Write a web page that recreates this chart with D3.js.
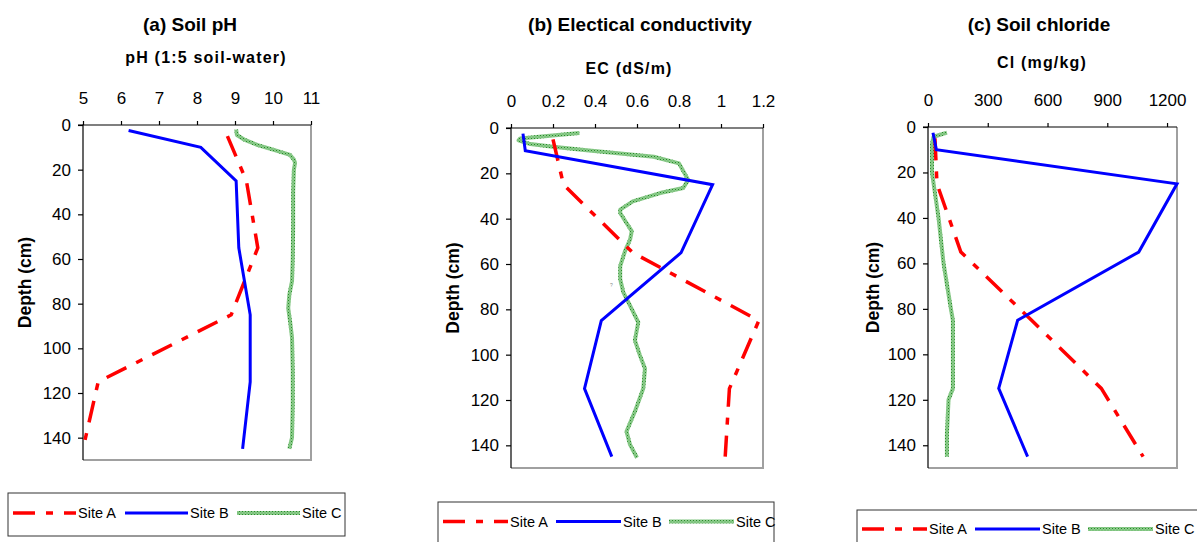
<!DOCTYPE html>
<html>
<head>
<meta charset="utf-8">
<script src="https://cdn.jsdelivr.net/npm/d3@7"></script>
<style>
  body { margin: 0; background: #fff; }
  svg { font-family: "Liberation Sans", Arial, sans-serif; display: block; }
</style>
</head>
<body>
<svg id="chart" width="1197" height="542"></svg>
<script>
// sampling depths (cm)
const depthB = [2.5, 10, 25, 55, 85, 115, 145];
const depthA = [5, 25, 55, 85, 115, 145];

// (a) soil pH
const phA = [8.8, 9.3, 9.6, 8.9, 5.4, 5.0];
const phB = [6.2, 8.1, 9.03, 9.1, 9.4, 9.4, 9.2];
const phDepthC = [2, 4.5, 6.7, 9, 11, 13.4, 15.5, 17, 20, 30, 45, 60, 70, 76, 82, 88, 95, 110, 125, 140, 145];
const phC = [9.03, 9.05, 9.26, 9.6, 10.0, 10.45, 10.55, 10.58, 10.55, 10.53, 10.53, 10.52, 10.5, 10.43, 10.4, 10.45, 10.5, 10.52, 10.52, 10.5, 10.43];

// (b) electrical conductivity
const ecA = [0.2, 0.25, 0.58, 1.18, 1.04, 1.02];
const ecB = [0.057, 0.068, 0.96, 0.81, 0.43, 0.35, 0.48];
const ecDepthC = [2.2, 4.6, 5.4, 7.1, 8.3, 9.8, 12.7, 15.6, 22.9, 26.5, 28.7, 32.4, 36, 37.5, 41.9, 45.5, 49.2, 54.3, 60.9, 66.7, 72.5, 78.4, 85.7, 93.7, 100.3, 106.1, 114.9, 125.1, 133.9, 139.7, 145.5];
const ecC = [0.326, 0.044, 0.036, 0.092, 0.2, 0.36, 0.68, 0.80, 0.844, 0.82, 0.71, 0.58, 0.52, 0.52, 0.55, 0.575, 0.567, 0.543, 0.52, 0.52, 0.535, 0.567, 0.606, 0.59, 0.614, 0.638, 0.63, 0.59, 0.55, 0.567, 0.60];

// (c) chloride
const clA = [35, 45, 165, 520, 870, 1080];
const clB = [25, 42, 1250, 1058, 450, 355, 500];
const clDepthC = [2.5, 4.3, 7.2, 20, 40, 60, 80, 85, 100, 115, 120, 135, 145];
const clC = [95, 28, 20, 20, 53, 78, 115, 125, 125, 125, 103, 95, 95];

const depthTicks = [0, 20, 40, 60, 80, 100, 120, 140];
const siteNames = ["Site A", "Site B", "Site C"];

const svg = d3.select("#chart");

// textured green stroke like the excel pattern line
const pat = svg.append("defs").append("pattern")
  .attr("id", "grn")
  .attr("patternUnits", "userSpaceOnUse")
  .attr("width", 3).attr("height", 3);
pat.append("rect").attr("width", 3).attr("height", 3).attr("fill", "#8ccc8c");
pat.append("rect").attr("width", 1).attr("height", 1).attr("fill", "#2a8a2a");
pat.append("rect").attr("x", 1.5).attr("y", 1.5).attr("width", 1).attr("height", 1).attr("fill", "#55aa55");

const styleA = s => s.attr("stroke", "#ff0000").attr("stroke-width", 3.5).attr("stroke-dasharray", "22,11,7,11");
const styleB = s => s.attr("stroke", "#0000ff").attr("stroke-width", 3);
const styleC = s => s.attr("stroke", "url(#grn)").attr("stroke-width", 4);

const panels = [
  { title: "(a) Soil pH", tx: 190, xlabel: "pH (1:5 soil-water)", lx: 206, ly: 63,
    left: 83, right: 311, top: 125, bottom: 460, domain: [5, 11], ticks: [5, 6, 7, 8, 9, 10, 11],
    A: phA, B: phB, dC: phDepthC, C: phC, depthLabelX: 31,
    legend: { x: 8, y: 493, w: 337, h: 43 } },
  { title: "(b) Electical conductivity", tx: 640, xlabel: "EC (dS/m)", lx: 629, ly: 74,
    left: 511, right: 763, top: 128, bottom: 468, domain: [0, 1.2], ticks: [0, 0.2, 0.4, 0.6, 0.8, 1, 1.2],
    A: ecA, B: ecB, dC: ecDepthC, C: ecC, depthLabelX: 459,
    legend: { x: 438, y: 502, w: 336, h: 60 } },
  { title: "(c)  Soil chloride", tx: 1039, xlabel: "Cl (mg/kg)", lx: 1042, ly: 68,
    left: 928, right: 1177, top: 127, bottom: 468, domain: [0, 1250], ticks: [0, 300, 600, 900, 1200],
    A: clA, B: clB, dC: clDepthC, C: clC, depthLabelX: 879,
    legend: { x: 857, y: 510, w: 360, h: 60 } }
];

panels.forEach(p => {
  const x = d3.scaleLinear().domain(p.domain).range([p.left, p.right]);
  const y = d3.scaleLinear().domain([0, 150]).range([p.top, p.bottom]);
  const g = svg.append("g");

  g.append("text").attr("x", p.tx).attr("y", 31).attr("text-anchor", "middle")
    .attr("font-size", 19).attr("font-weight", "bold").text(p.title);
  g.append("text").attr("x", p.lx).attr("y", p.ly).attr("text-anchor", "middle")
    .attr("font-size", 16).attr("font-weight", "bold").attr("letter-spacing", "1.2px").text(p.xlabel);

  // plot frame (right + bottom)
  g.append("path")
    .attr("d", `M${p.right},${p.top}V${p.bottom}H${p.left}`)
    .attr("fill", "none").attr("stroke", "#a0a0a0").attr("stroke-width", 2);

  const xAxis = g.append("g").attr("transform", `translate(0,${p.top})`)
    .call(d3.axisTop(x).tickValues(p.ticks).tickFormat(d => String(d))
      .tickSize(4).tickSizeOuter(0).tickPadding(17));
  const yAxis = g.append("g").attr("transform", `translate(${p.left},0)`)
    .call(d3.axisLeft(y).tickValues(depthTicks).tickFormat(d => String(d))
      .tickSize(5).tickSizeOuter(0).tickPadding(7));
  [xAxis, yAxis].forEach(a => {
    a.selectAll("text").attr("font-size", 17).attr("fill", "#000").style("font-family", "inherit");
    a.selectAll("line,path").attr("stroke", "#000").attr("stroke-width", 1.2);
  });
  yAxis.select(".domain").attr("d", `M0,${p.top - 0.5}V${p.bottom}`);
  xAxis.select(".domain").attr("d", `M${p.left - 5},0H${p.right}`);

  g.append("text")
    .attr("transform", `translate(${p.depthLabelX},${(p.top + p.bottom) / 2 - 10}) rotate(-90)`)
    .attr("text-anchor", "middle").attr("font-size", 17.5).attr("font-weight", "bold").text("Depth (cm)");

  const line = d3.line().x(d => x(d[1])).y(d => y(d[0]));
  g.append("path").datum(d3.zip(p.dC, p.C)).attr("fill", "none").attr("d", line).call(styleC)
    .attr("stroke-linejoin", "round");
  g.append("path").datum(d3.zip(depthA, p.A)).attr("fill", "none").attr("d", line).call(styleA);
  g.append("path").datum(d3.zip(depthB, p.B)).attr("fill", "none").attr("d", line).call(styleB);

  // legend
  const L = p.legend;
  const lg = svg.append("g").attr("transform", `translate(${L.x},${L.y})`);
  lg.append("rect").attr("width", L.w).attr("height", L.h)
    .attr("fill", "#fff").attr("stroke", "#333").attr("stroke-width", 1);
  const ly = p === panels[0] ? 20 : (p === panels[1] ? 19.5 : 19);
  const sw = p === panels[0] ? 63 : 65;
  const step = p === panels[0] ? 112 : 113;
  siteNames.forEach((name, i) => {
    const x0 = 5 + i * step;
    lg.append("line").attr("x1", x0).attr("x2", x0 + sw).attr("y1", ly).attr("y2", ly)
      .call([styleA, styleB, styleC][i]);
    lg.append("text").attr("x", x0 + sw + 2).attr("y", ly + 5).attr("font-size", 14.5).text(name);
  });
});

// stray mark in the EC panel
svg.append("text").attr("x", 610).attr("y", 287).attr("font-size", 5).attr("fill", "#888").text("?");
</script>
</body>
</html>
